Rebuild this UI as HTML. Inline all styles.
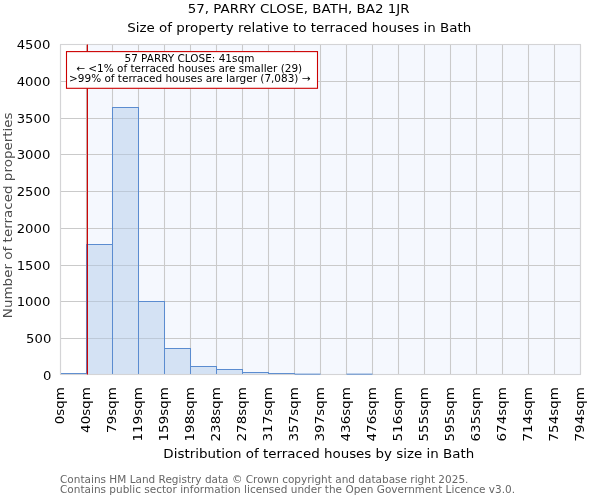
<!DOCTYPE html><html><head><meta charset="utf-8"><title>57, PARRY CLOSE, BATH, BA2 1JR</title>
<style>html,body{margin:0;padding:0;background:#fff}svg{display:block}text{font-family:"DejaVu Sans","Liberation Sans",sans-serif;fill:#000}</style></head><body>
<svg width="600" height="500" viewBox="0 0 600 500">
<rect width="600" height="500" fill="#fff"/>
<rect x="87.4" y="44.5" width="493.1" height="330" fill="#f5f8fe"/>
<path d="M60.5 44.5V374.5M86.5 44.5V374.5M112.5 44.5V374.5M138.5 44.5V374.5M164.5 44.5V374.5M190.5 44.5V374.5M216.5 44.5V374.5M242.5 44.5V374.5M268.5 44.5V374.5M294.5 44.5V374.5M320.5 44.5V374.5M346.5 44.5V374.5M372.5 44.5V374.5M398.5 44.5V374.5M424.5 44.5V374.5M450.5 44.5V374.5M476.5 44.5V374.5M502.5 44.5V374.5M528.5 44.5V374.5M554.5 44.5V374.5M580.5 44.5V374.5M60.5 374.50H580.5M60.5 338.50H580.5M60.5 301.50H580.5M60.5 265.50H580.5M60.5 228.50H580.5M60.5 191.50H580.5M60.5 154.50H580.5M60.5 118.50H580.5M60.5 81.50H580.5M60.5 44.50H580.5" stroke="#cacaca" stroke-width="1.1" fill="none"/>
<rect x="60.5" y="373.5" width="26" height="1" fill="#aec7e8" fill-opacity="0.45" stroke="#5b8cd0" stroke-width="1"/>
<rect x="86.5" y="244.5" width="26" height="130" fill="#aec7e8" fill-opacity="0.45" stroke="#5b8cd0" stroke-width="1"/>
<rect x="112.5" y="107.5" width="26" height="267" fill="#aec7e8" fill-opacity="0.45" stroke="#5b8cd0" stroke-width="1"/>
<rect x="138.5" y="301.5" width="26" height="73" fill="#aec7e8" fill-opacity="0.45" stroke="#5b8cd0" stroke-width="1"/>
<rect x="164.5" y="348.5" width="26" height="26" fill="#aec7e8" fill-opacity="0.45" stroke="#5b8cd0" stroke-width="1"/>
<rect x="190.5" y="366.5" width="26" height="8" fill="#aec7e8" fill-opacity="0.45" stroke="#5b8cd0" stroke-width="1"/>
<rect x="216.5" y="369.5" width="26" height="5" fill="#aec7e8" fill-opacity="0.45" stroke="#5b8cd0" stroke-width="1"/>
<rect x="242.5" y="372.5" width="26" height="2" fill="#aec7e8" fill-opacity="0.45" stroke="#5b8cd0" stroke-width="1"/>
<rect x="268.5" y="373.5" width="26" height="1" fill="#aec7e8" fill-opacity="0.45" stroke="#5b8cd0" stroke-width="1"/>
<rect x="60.5" y="44.5" width="520" height="330" fill="none" stroke="#d4d4d6" stroke-width="1.1"/>
<path d="M294.5 374.15h26M346.5 374.15h26" stroke="#5b8cd0" stroke-width="1"/>
<path d="M87.4 44.5V374.5" stroke="#cc0000" stroke-width="1.15"/>
<rect x="66.5" y="51.6" width="251" height="36.7" fill="#fff" stroke="#cc0000" stroke-width="1.1"/>
<text transform="translate(189.4 61.6) scale(1.0490 1)" font-size="10" text-anchor="middle">57 PARRY CLOSE: 41sqm</text>
<text transform="translate(189.2 71.9) scale(1.0490 1)" font-size="10" text-anchor="middle">← &lt;1% of terraced houses are smaller (29)</text>
<text transform="translate(189.8 82.2) scale(1.0490 1)" font-size="10" text-anchor="middle">&gt;99% of terraced houses are larger (7,083) →</text>
<text transform="translate(51.3 379.9) scale(1.0909 1)" font-size="12.1" text-anchor="end">0</text>
<text transform="translate(51.3 342.9) scale(1.0909 1)" font-size="12.1" text-anchor="end">500</text>
<text transform="translate(50.3 305.9) scale(1.0909 1)" font-size="12.1" text-anchor="end">1000</text>
<text transform="translate(50.3 269.9) scale(1.0909 1)" font-size="12.1" text-anchor="end">1500</text>
<text transform="translate(50.3 232.9) scale(1.0909 1)" font-size="12.1" text-anchor="end">2000</text>
<text transform="translate(50.3 195.9) scale(1.0909 1)" font-size="12.1" text-anchor="end">2500</text>
<text transform="translate(50.3 158.9) scale(1.0909 1)" font-size="12.1" text-anchor="end">3000</text>
<text transform="translate(50.3 122.9) scale(1.0909 1)" font-size="12.1" text-anchor="end">3500</text>
<text transform="translate(50.3 85.9) scale(1.0909 1)" font-size="12.1" text-anchor="end">4000</text>
<text transform="translate(50.3 48.9) scale(1.0909 1)" font-size="12.1" text-anchor="end">4500</text>
<text transform="translate(64.1 387.2) rotate(-90) scale(1.0927 1)" font-size="12.3" text-anchor="end">0sqm</text>
<text transform="translate(90.1 387.2) rotate(-90) scale(1.0927 1)" font-size="12.3" text-anchor="end">40sqm</text>
<text transform="translate(116.1 387.2) rotate(-90) scale(1.0927 1)" font-size="12.3" text-anchor="end">79sqm</text>
<text transform="translate(142.1 387.2) rotate(-90) scale(1.0927 1)" font-size="12.3" text-anchor="end">119sqm</text>
<text transform="translate(168.1 387.2) rotate(-90) scale(1.0927 1)" font-size="12.3" text-anchor="end">159sqm</text>
<text transform="translate(194.1 387.2) rotate(-90) scale(1.0927 1)" font-size="12.3" text-anchor="end">198sqm</text>
<text transform="translate(220.1 387.2) rotate(-90) scale(1.0927 1)" font-size="12.3" text-anchor="end">238sqm</text>
<text transform="translate(246.1 387.2) rotate(-90) scale(1.0927 1)" font-size="12.3" text-anchor="end">278sqm</text>
<text transform="translate(272.1 387.2) rotate(-90) scale(1.0927 1)" font-size="12.3" text-anchor="end">317sqm</text>
<text transform="translate(298.1 387.2) rotate(-90) scale(1.0927 1)" font-size="12.3" text-anchor="end">357sqm</text>
<text transform="translate(324.1 387.2) rotate(-90) scale(1.0927 1)" font-size="12.3" text-anchor="end">397sqm</text>
<text transform="translate(350.1 387.2) rotate(-90) scale(1.0927 1)" font-size="12.3" text-anchor="end">436sqm</text>
<text transform="translate(376.1 387.2) rotate(-90) scale(1.0927 1)" font-size="12.3" text-anchor="end">476sqm</text>
<text transform="translate(402.1 387.2) rotate(-90) scale(1.0927 1)" font-size="12.3" text-anchor="end">516sqm</text>
<text transform="translate(428.1 387.2) rotate(-90) scale(1.0927 1)" font-size="12.3" text-anchor="end">555sqm</text>
<text transform="translate(454.1 387.2) rotate(-90) scale(1.0927 1)" font-size="12.3" text-anchor="end">595sqm</text>
<text transform="translate(480.1 387.2) rotate(-90) scale(1.0927 1)" font-size="12.3" text-anchor="end">635sqm</text>
<text transform="translate(506.1 387.2) rotate(-90) scale(1.0927 1)" font-size="12.3" text-anchor="end">674sqm</text>
<text transform="translate(532.1 387.2) rotate(-90) scale(1.0927 1)" font-size="12.3" text-anchor="end">714sqm</text>
<text transform="translate(558.1 387.2) rotate(-90) scale(1.0927 1)" font-size="12.3" text-anchor="end">754sqm</text>
<text transform="translate(584.1 387.2) rotate(-90) scale(1.0927 1)" font-size="12.3" text-anchor="end">794sqm</text>
<text transform="translate(298.6 12.9) scale(1.1107 1)" font-size="12.1" text-anchor="middle">57, PARRY CLOSE, BATH, BA2 1JR</text>
<text transform="translate(299.25 31.8) scale(1.0752 1)" font-size="12.5" text-anchor="middle">Size of property relative to terraced houses in Bath</text>
<text transform="translate(318.8 458.3) scale(1.0911 1)" font-size="12.3" text-anchor="middle">Distribution of terraced houses by size in Bath</text>
<text transform="translate(11.5 215.25) rotate(-90) scale(1.1020 1)" font-size="12.25" text-anchor="middle" style="fill:#4d4d4d">Number of terraced properties</text>
<text transform="translate(60 482.8) scale(1.0406 1)" font-size="10.1" style="fill:#666">Contains HM Land Registry data © Crown copyright and database right 2025.</text>
<text transform="translate(60 492.7) scale(1.0406 1)" font-size="10.1" style="fill:#666">Contains public sector information licensed under the Open Government Licence v3.0.</text>
</svg></body></html>
